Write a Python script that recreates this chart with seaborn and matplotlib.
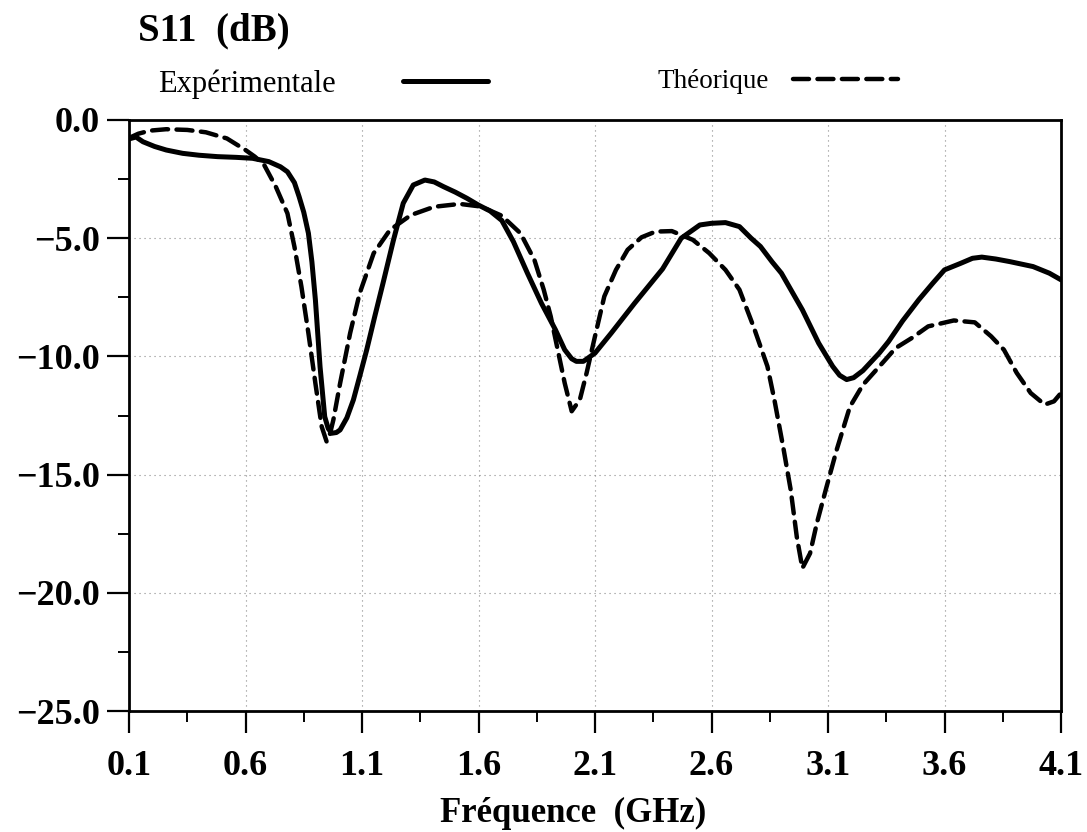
import matplotlib
matplotlib.use("Agg")
import matplotlib.pyplot as plt
import seaborn as sns
import pandas as pd
from matplotlib.ticker import FixedLocator, FuncFormatter

# Measured reflection coefficient S11 (dB) versus frequency (GHz)
freq_exp = [0.10, 0.13, 0.16, 0.21, 0.26, 0.33, 0.40, 0.48, 0.56, 0.63, 0.70, 0.75,
            0.78, 0.81, 0.83, 0.85, 0.87, 0.885, 0.90, 0.92, 0.94, 0.955, 0.97, 0.99,
            1.006, 1.035, 1.063, 1.09, 1.12, 1.155, 1.19, 1.235, 1.277, 1.32, 1.37,
            1.41, 1.45, 1.50, 1.55, 1.60, 1.65, 1.70, 1.75, 1.81, 1.87, 1.93, 1.97,
            2.00, 2.02, 2.05, 2.10, 2.17, 2.27, 2.39, 2.47, 2.55, 2.60, 2.66, 2.72,
            2.77, 2.81, 2.86, 2.90, 2.99, 3.06, 3.12, 3.15, 3.18, 3.21, 3.25, 3.32,
            3.36, 3.42, 3.49, 3.55, 3.60, 3.67, 3.72, 3.76, 3.82, 3.88, 3.98, 4.05, 4.10]
s11_exp = [-0.80, -0.72, -0.92, -1.12, -1.27, -1.41, -1.49, -1.55, -1.58, -1.62, -1.76, -1.98,
           -2.19, -2.65, -3.24, -3.90, -4.79, -6.00, -7.61, -10.44, -12.55, -13.05, -13.25, -13.22,
           -13.11, -12.60, -11.84, -10.85, -9.73, -8.30, -6.91, -5.08, -3.52, -2.75, -2.54,
           -2.62, -2.82, -3.05, -3.31, -3.60, -3.85, -4.25, -5.15, -6.48, -7.75, -8.87, -9.72,
           -10.10, -10.21, -10.21, -9.86, -9.01, -7.75, -6.30, -5.00, -4.44, -4.37, -4.34, -4.51,
           -5.00, -5.35, -6.00, -6.48, -8.03, -9.44, -10.42, -10.80, -10.98, -10.90, -10.60, -9.86,
           -9.37, -8.50, -7.60, -6.90, -6.34, -6.06, -5.85, -5.80, -5.88, -5.99, -6.20, -6.48, -6.76]

# Simulated S11 (dB)
freq_theo = [0.10, 0.14, 0.19, 0.26, 0.35, 0.43, 0.52, 0.60, 0.64, 0.68, 0.73, 0.78,
             0.81, 0.84, 0.87, 0.90, 0.927, 0.948, 0.962, 0.977, 1.006, 1.049, 1.09, 1.15,
             1.22, 1.31, 1.41, 1.52, 1.61, 1.70, 1.78, 1.84, 1.88, 1.91, 1.94, 1.97, 2.00,
             2.035, 2.064, 2.10, 2.14, 2.19, 2.24, 2.30, 2.36, 2.43, 2.52, 2.59, 2.66, 2.72,
             2.78, 2.84, 2.87, 2.91, 2.94, 2.966, 2.99, 3.023, 3.052, 3.094, 3.137, 3.194,
             3.25, 3.32, 3.39, 3.46, 3.53, 3.64, 3.73, 3.80, 3.855, 3.91, 3.97, 4.03, 4.07, 4.10]
s11_theo = [-0.76, -0.58, -0.45, -0.39, -0.42, -0.52, -0.78, -1.27, -1.55, -1.90, -2.82, -3.95,
            -5.36, -7.05, -9.02, -11.14, -12.97, -13.60, -13.30, -12.69, -11.14, -9.02, -7.33, -5.64,
            -4.65, -4.02, -3.67, -3.55, -3.66, -4.05, -4.79, -5.92, -7.18, -8.31, -9.72, -11.13, -12.32,
            -11.83, -10.70, -9.15, -7.46, -6.34, -5.49, -4.96, -4.72, -4.70, -5.07, -5.63, -6.34, -7.18,
            -8.73, -10.42, -11.84, -13.96, -15.65, -17.63, -18.96, -18.33, -17.06, -15.51, -13.96, -12.13,
            -11.20, -10.43, -9.65, -9.22, -8.73, -8.48, -8.56, -9.15, -9.72, -10.70, -11.55, -12.04, -11.90, -11.55]

x_ticks = [0.1, 0.6, 1.1, 1.6, 2.1, 2.6, 3.1, 3.6, 4.1]
x_minor = [0.35, 0.85, 1.35, 1.85, 2.35, 2.85, 3.35, 3.85]
y_ticks = [0.0, -5.0, -10.0, -15.0, -20.0, -25.0]
y_minor = [-2.5, -7.5, -12.5, -17.5, -22.5]
series_labels = ["Expérimentale", "Théorique"]

sns.set_theme(style="ticks")
plt.rcParams["font.family"] = ["Liberation Serif", "DejaVu Serif"]
plt.rcParams["text.color"] = "black"

W, H = 1087, 832
fig = plt.figure(figsize=(W / 100, H / 100), dpi=100)
fig.patch.set_facecolor("white")
ax = fig.add_axes([129 / W, 121 / H, 932 / W, 591 / H])
ax.set_facecolor("white")

df_exp = pd.DataFrame({"freq": freq_exp, "s11": s11_exp})
df_theo = pd.DataFrame({"freq": freq_theo, "s11": s11_theo})

sns.lineplot(data=df_exp, x="freq", y="s11", ax=ax, color="black", lw=3.6,
             sort=False, label=series_labels[0])
sns.lineplot(data=df_theo, x="freq", y="s11", ax=ax, color="black", lw=3.2,
             sort=False, linestyle="--", label=series_labels[1])
line_exp, line_theo = ax.get_lines()[:2]
line_theo.set_dashes((3.6, 1.9))
line_theo.set_dash_capstyle("round")

ax.set_xlim(0.1, 4.1)
ax.set_ylim(-25, 0)
ax.xaxis.set_major_locator(FixedLocator(x_ticks))
ax.xaxis.set_minor_locator(FixedLocator(x_minor))
ax.yaxis.set_major_locator(FixedLocator(y_ticks))
ax.yaxis.set_minor_locator(FixedLocator(y_minor))
ax.xaxis.set_major_formatter(FuncFormatter(lambda v, p: f"{v:.1f}"))
ax.yaxis.set_major_formatter(FuncFormatter(lambda v, p: f"{v:.1f}".replace("-", "\u2212")))

ax.grid(True, which="major", color="#8a8a8a", linestyle=(0, (1, 3.5)), linewidth=0.8)
ax.set_axisbelow(True)

for side in ["top", "bottom", "left", "right"]:
    ax.spines[side].set_visible(True)
    ax.spines[side].set_color("black")
    ax.spines[side].set_linewidth(2.0)

ax.tick_params(axis="both", which="major", direction="out", length=16, width=1.6,
               color="black", labelsize=26, labelcolor="black")
ax.tick_params(axis="both", which="minor", direction="out", length=8, width=1.4,
               color="black")
ax.tick_params(axis="x", which="major", pad=12)
ax.tick_params(axis="y", which="major", pad=5)
for lbl in ax.get_xticklabels() + ax.get_yticklabels():
    lbl.set_fontweight("bold")

ax.set_xlabel("")
ax.set_ylabel("")

# Key: label first, then the line sample, one entry per series
leg1 = ax.legend(handles=[line_exp], labels=[series_labels[0]],
                 loc="lower left", bbox_to_anchor=(158 / W, 1 - 99 / H),
                 bbox_transform=fig.transFigure, markerfirst=False,
                 frameon=False, fontsize=22, handlelength=2.8, handletextpad=2.2,
                 borderpad=0, borderaxespad=0, labelcolor="black")
ax.add_artist(leg1)
leg2 = ax.legend(handles=[line_theo], labels=[series_labels[1]],
                 loc="lower left", bbox_to_anchor=(657 / W, 1 - 94 / H),
                 bbox_transform=fig.transFigure, markerfirst=False,
                 frameon=False, fontsize=19.5, handlelength=3.9, handletextpad=0.9,
                 borderpad=0, borderaxespad=0, labelcolor="black")

fig.text(138 / W, 1 - 40 / H, "S11  (dB)", fontsize=28, fontweight="bold",
         ha="left", va="baseline", color="black")
fig.text(573 / W, 1 - 822 / H, "Fréquence  (GHz)", fontsize=25, fontweight="bold",
         ha="center", va="baseline", color="black")

fig.savefig("out.png", dpi=100, facecolor="white")
